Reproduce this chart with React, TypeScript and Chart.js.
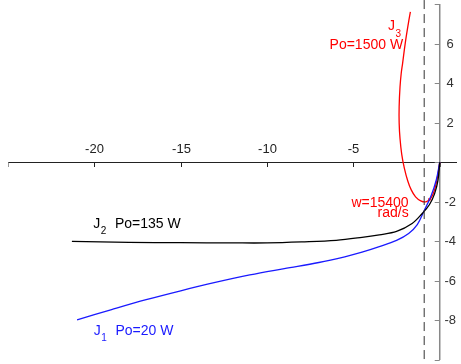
import React, { useEffect, useRef } from "react";
import { Chart, registerables } from "chart.js";
Chart.register(...registerables);

// Axis ranges and ticks
const X_MIN = -25;
const X_MAX = 1;
const Y_MIN = -10;
const Y_MAX = 8;
const xTickValues = [-25, -20, -15, -10, -5, 0];
const xTickLabels = ["", "-20", "-15", "-10", "-5", ""];
const yTickValues = [8, 6, 4, 2, 0, -2, -4, -6, -8, -10];
const yTickLabels = ["", "6", "4", "2", "", "-2", "-4", "-6", "-8", ""];

// J1, Po = 20 W (blue)
const j1X = [-21, -19, -17, -15, -13, -11, -9, -7, -5.5, -4.5, -3.5, -2.5, -1.8, -1.3, -0.9, -0.5, -0.2, 0];
const j1Y = [-7.97, -7.45, -6.95, -6.5, -6.08, -5.7, -5.38, -5.07, -4.78, -4.55, -4.27, -3.95, -3.6, -3.15, -2.45, -1.7, -0.9, 0];

// J2, Po = 135 W (black)
const j2X = [-21.3, -18, -15, -12, -10, -8, -6, -4.5, -3.5, -2.5, -1.6, -1.0, -0.6, -0.3, -0.1, 0];
const j2Y = [-4.0, -4.05, -4.07, -4.08, -4.08, -4.03, -3.95, -3.8, -3.67, -3.5, -3.1, -2.58, -2.15, -1.6, -0.9, 0];

// J3, Po = 1500 W (red)
const j3X = [0, -0.1, -0.3, -0.5, -0.8, -1.1, -1.4, -1.65, -1.85, -2.05, -2.2, -2.3, -2.35, -2.35, -2.3, -2.23, -2.15, -2.0, -1.82, -1.7];
const j3Y = [0, -0.6, -1.4, -1.8, -2.0, -1.95, -1.75, -1.4, -0.95, -0.3, 0.4, 1.2, 2.0, 2.8, 3.8, 4.5, 5.0, 6.0, 7.0, 7.6];

// Dashed vertical reference line
const dashX = -0.9;

// Marker for w = 15400 rad/s
const markX = [-0.6];
const markY = [-1.9];

const pts = (xs: number[], ys: number[]) => xs.map((x, i) => ({ x, y: ys[i] }));

const FONT = '"Liberation Sans", Arial, Helvetica, sans-serif';

const axesPlugin = {
  id: "centerAxes",
  beforeDatasetsDraw(chart: any) {
    const { ctx, scales } = chart;
    const xs = scales.x;
    const ys = scales.y;
    const x0 = xs.getPixelForValue(0);
    const y0 = ys.getPixelForValue(0);
    ctx.save();
    // x axis
    ctx.strokeStyle = "#222";
    ctx.lineWidth = 1;
    ctx.beginPath();
    ctx.moveTo(xs.getPixelForValue(X_MIN), Math.round(y0) + 0.5);
    ctx.lineTo(xs.getPixelForValue(X_MAX), Math.round(y0) + 0.5);
    ctx.stroke();
    ctx.font = `13px ${FONT}`;
    ctx.fillStyle = "#222";
    ctx.textAlign = "center";
    ctx.textBaseline = "middle";
    xTickValues.forEach((v, i) => {
      const px = Math.round(xs.getPixelForValue(v)) + 0.5;
      ctx.strokeStyle = i === 0 ? "#999" : "#222";
      ctx.beginPath();
      ctx.moveTo(px, Math.round(y0) + 0.5);
      ctx.lineTo(px, Math.round(y0) + 5);
      ctx.stroke();
      if (xTickLabels[i]) ctx.fillText(xTickLabels[i], px, y0 - 13);
    });
    // y axis
    ctx.strokeStyle = "#888";
    ctx.lineWidth = 1.5;
    ctx.beginPath();
    ctx.moveTo(x0, ys.getPixelForValue(Y_MAX));
    ctx.lineTo(x0, ys.getPixelForValue(Y_MIN));
    ctx.stroke();
    ctx.lineWidth = 1;
    ctx.textAlign = "center";
    ctx.fillStyle = "#333";
    yTickValues.forEach((v, i) => {
      const py = Math.round(ys.getPixelForValue(v)) + 0.5;
      ctx.beginPath();
      ctx.moveTo(x0 - 5, py);
      ctx.lineTo(x0, py);
      ctx.stroke();
      if (yTickLabels[i]) ctx.fillText(yTickLabels[i], x0 + 10.5, py);
    });
    ctx.restore();
  },
  afterDatasetsDraw(chart: any) {
    const { ctx, scales } = chart;
    const xs = scales.x;
    const ys = scales.y;
    const P = (x: number, y: number) => [xs.getPixelForValue(x), ys.getPixelForValue(y)];
    ctx.save();
    ctx.textBaseline = "alphabetic";
    const sub = (x: number, y: number, main: string, s: string, color: string, drop: number) => {
      const [px, py] = P(x, y);
      ctx.fillStyle = color;
      ctx.textAlign = "left";
      ctx.font = `14px ${FONT}`;
      ctx.fillText(main, px, py);
      const w = ctx.measureText(main).width;
      ctx.font = `10px ${FONT}`;
      ctx.fillText(s, px + w + 0.5, py + drop);
    };
    const txt = (x: number, y: number, t: string, color: string, align: string) => {
      const [px, py] = P(x, y);
      ctx.fillStyle = color;
      ctx.textAlign = align;
      ctx.font = `14px ${FONT}`;
      ctx.fillText(t, px, py);
    };
    sub(-3.0, 6.7, "J", "3", "#f00", 7);
    txt(-2.12, 5.7, "Po=1500 W", "#f00", "right");
    txt(-1.8, -2.28, "w=15400", "#f00", "right");
    txt(-1.8, -2.77, "rad/s", "#f00", "right");
    sub(-20.07, -3.31, "J", "2", "#000", 6);
    txt(-18.81, -3.31, "Po=135 W", "#000", "left");
    sub(-20.03, -8.72, "J", "1", "#1a1aff", 6);
    txt(-18.78, -8.72, "Po=20 W", "#1a1aff", "left");
    ctx.restore();
  },
};

export default function App() {
  const ref = useRef<HTMLCanvasElement | null>(null);
  useEffect(() => {
    if (!ref.current) return;
    const chart = new Chart(ref.current, {
      type: "scatter",
      data: {
        datasets: [
          {
            data: [
              { x: dashX, y: Y_MAX + 0.2 },
              { x: dashX, y: Y_MIN - 0.2 },
            ],
            showLine: true,
            borderColor: "#333",
            borderWidth: 1,
            borderDash: [9, 5],
            pointRadius: 0,
            clip: false,
          } as any,
          {
            data: pts(j2X, j2Y),
            showLine: true,
            borderColor: "#000",
            borderWidth: 1.3,
            pointRadius: 0,
            tension: 0.35,
          },
          {
            data: pts(j1X, j1Y),
            showLine: true,
            borderColor: "#1a1aff",
            borderWidth: 1.3,
            pointRadius: 0,
            tension: 0.35,
          },
          {
            data: pts(j3X, j3Y),
            showLine: true,
            borderColor: "#f00",
            borderWidth: 1.3,
            pointRadius: 0,
            tension: 0.35,
          },
          {
            data: pts(markX, markY),
            showLine: false,
            pointStyle: "triangle",
            rotation: 90,
            pointRadius: 2.2,
            backgroundColor: "#f00",
            borderColor: "#f00",
            borderWidth: 0,
          } as any,
        ],
      },
      options: {
        animation: false,
        responsive: false,
        devicePixelRatio: 1,
        layout: { padding: { left: 8, top: 2, right: 0, bottom: 3.6 } },
        plugins: { legend: { display: false }, tooltip: { enabled: false } },
        scales: {
          x: { type: "linear", min: X_MIN, max: X_MAX, display: false },
          y: { type: "linear", min: Y_MIN, max: Y_MAX, display: false },
        },
      },
      plugins: [axesPlugin],
    });
    return () => chart.destroy();
  }, []);
  return (
    <div style={{ position: "absolute", left: 0, top: 0, width: 461, height: 364, background: "#fff" }}>
      <canvas ref={ref} width={461} height={364} style={{ display: "block" }} />
    </div>
  );
}
